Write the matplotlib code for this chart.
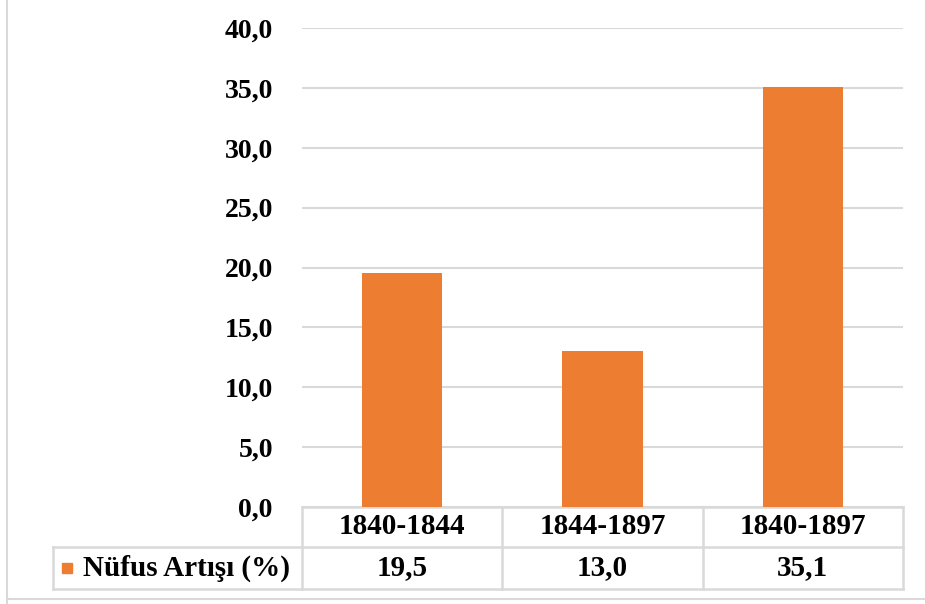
import matplotlib.pyplot as plt
from matplotlib.ticker import FuncFormatter
import matplotlib.transforms as mtransforms
from matplotlib.lines import Line2D

# Data
periods = ["1840-1844", "1844-1897", "1840-1897"]
growth = [19.5, 13.0, 35.1]
series_name = "Nüfus Artışı (%)"
yticks = [0, 5, 10, 15, 20, 25, 30, 35, 40]

bar_color = "#ED7D31"
grid_color = "#D9D9D9"
font = dict(family="Liberation Serif", fontweight="bold", fontsize=21, color="black")

W, H = 925, 604
fig = plt.figure(figsize=(W / 100, H / 100), dpi=100)

# Plot area in pixels
left_px, right_px, top_px, base_px = 302, 903, 28, 507
ax = fig.add_axes([left_px / W, 1 - base_px / H,
                   (right_px - left_px) / W, (base_px - top_px) / H])
ax_h = base_px - top_px

x = list(range(len(periods)))
ax.bar(x, growth, width=0.4, color=bar_color, zorder=3)

ax.set_xlim(-0.5, len(periods) - 0.5)
ax.set_ylim(0, 40)
ax.set_yticks(yticks)
ax.yaxis.set_major_formatter(FuncFormatter(lambda v, p: f"{v:.1f}".replace(".", ",")))
ax.set_xticks([])
ax.tick_params(axis="y", length=0, pad=21)
for lab in ax.get_yticklabels():
    lab.set_fontfamily("Liberation Serif")
    lab.set_fontweight("bold")
    lab.set_fontsize(20)
ax.grid(axis="y", color=grid_color, linewidth=1.5, zorder=0)
for s in ax.spines.values():
    s.set_visible(False)

# Data table under the plot
tr = mtransforms.blended_transform_factory(ax.transData, ax.transAxes)


def py(px):
    # pixel offset below the baseline -> axes fraction
    return -(px - base_px) / ax_h


def px_x(px):
    # pixel x -> data x
    return -0.5 + (px - left_px) / (right_px - left_px) * len(periods)


y_top, y_mid, y_bot = py(507), py(547), py(589)
x_leg = px_x(53)
line_kw = dict(color=grid_color, linewidth=1.8, transform=tr, clip_on=False)

ax.add_line(Line2D([-0.5, 2.5], [y_top, y_top], **line_kw))
ax.add_line(Line2D([x_leg, 2.5], [y_mid, y_mid], **line_kw))
ax.add_line(Line2D([x_leg, 2.5], [y_bot, y_bot], **line_kw))
ax.add_line(Line2D([x_leg, x_leg], [y_mid, y_bot], **line_kw))
for xv in [-0.5, 0.5, 1.5, 2.5]:
    ax.add_line(Line2D([xv, xv], [y_top, y_bot], **line_kw))

for i, (p, v) in enumerate(zip(periods, growth)):
    ax.text(i, (y_top + y_mid) / 2, p, ha="center", va="center", transform=tr, **font)
    ax.text(i, (y_mid + y_bot) / 2, f"{v:.1f}".replace(".", ","),
            ha="center", va="center", transform=tr, **font)

ax.plot([px_x(67)], [(y_mid + y_bot) / 2], marker="s", markersize=7.5,
        color=bar_color, transform=tr, clip_on=False)
ax.text(px_x(83), (y_mid + y_bot) / 2, series_name, ha="left", va="center",
        transform=tr, **font)

# Chart border (left and bottom visible)
fig.add_artist(Line2D([7 / W, 7 / W], [0, 1 - 0 / H], color=grid_color, linewidth=1.5))
fig.add_artist(Line2D([7 / W, 1], [1 - 599 / H, 1 - 599 / H], color=grid_color, linewidth=1.5))

fig.savefig("out.png", dpi=100)
plt.close(fig)
